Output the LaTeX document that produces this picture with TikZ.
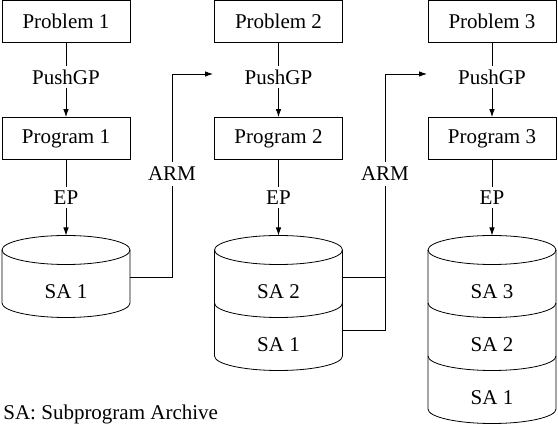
\documentclass[tikz,border=0pt]{standalone}
\usepackage{fontspec}
\setmainfont{LiberationSerif}[Extension=.ttf,UprightFont=*-Regular,BoldFont=*-Bold]
\usetikzlibrary{arrows.meta,positioning}

\begin{document}
\begin{tikzpicture}[x=1pt,y=-1pt,line width=0.8pt,>={Latex[length=8pt,width=5.5pt]},
	every node/.style={font=\fontsize{21}{25}\selectfont},
	box/.style={draw,minimum width=128pt,minimum height=42pt,inner sep=0pt},
	lbl/.style={fill=white,inner sep=3.5pt},
	arm/.style={inner sep=5pt},
	front/.style={start angle=180,end angle=360,x radius=64pt,y radius=14.5pt}]
			\useasboundingbox (0,0) rectangle (558,430);

			\node[box] (P1) at (66,21.5) {Problem 1};
			\node[box] (P2) at (278.5,21.5) {Problem 2};
			\node[box] (P3) at (492,21.5) {Problem 3};
			\node[box] (G1) at (66,138.5) {Program 1};
			\node[box] (G2) at (278.5,138.5) {Program 2};
			\node[box] (G3) at (492,138.5) {Program 3};

			% archives
			\draw (2,250) -- (2,303) arc[front] -- (130,250);
			\draw (66,250) ellipse [x radius=64pt,y radius=14.5pt];
			\draw (214.5,250) -- (214.5,356) arc[front] -- (342.5,250);
			\draw (278.5,250) ellipse [x radius=64pt,y radius=14.5pt];
			\draw (214.5,303) arc[front];
			\draw (428,250) -- (428,409) arc[front] -- (556,250);
			\draw (492,250) ellipse [x radius=64pt,y radius=14.5pt];
			\draw (428,303) arc[front];
			\draw (428,356) arc[front];

			\node (A1a) at (66,292) {SA 1};
			\node (A2b) at (278.5,292) {SA 2};
			\node (A2a) at (278.5,345) {SA 1};
			\node (A3c) at (492,292) {SA 3};
			\node (A3b) at (492,345) {SA 2};
			\node (A3a) at (492,398) {SA 1};

			\coordinate (A1) at (66,235.5);
			\coordinate (A2) at (278.5,235.5);
			\coordinate (A3) at (492,235.5);
			\coordinate (A1r) at (130,277);
			\coordinate (A2r) at (342.5,277);
			\coordinate (A2s) at (342.5,330);
			\coordinate (E2) at (213,74);
			\coordinate (E3) at (427,74);

			\node[arm] (M1) at (172,174) {ARM};
			\node[arm] (M2) at (385,174) {ARM};

			\path[->] (P1) edge node[lbl,pos=.46] {PushGP} (G1)
						 (P2) edge node[lbl,pos=.46] {PushGP} (G2)
						 (P3) edge node[lbl,pos=.46] {PushGP} (G3)
						 (G1) edge node[lbl] {EP} (A1)
						 (G2) edge node[lbl] {EP} (A2)
						 (G3) edge node[lbl] {EP} (A3);

			\draw (A1r) -| (M1);
			\draw[->] (M1) |- (E2);
			\draw (A2r) -- (A2r -| M2);
			\draw (A2s) -| (M2);
			\draw[->] (M2) |- (E3);

			\node[anchor=west,inner sep=0pt] (key) at (3,414) {SA: Subprogram Archive};
		\end{tikzpicture}
\end{document}
